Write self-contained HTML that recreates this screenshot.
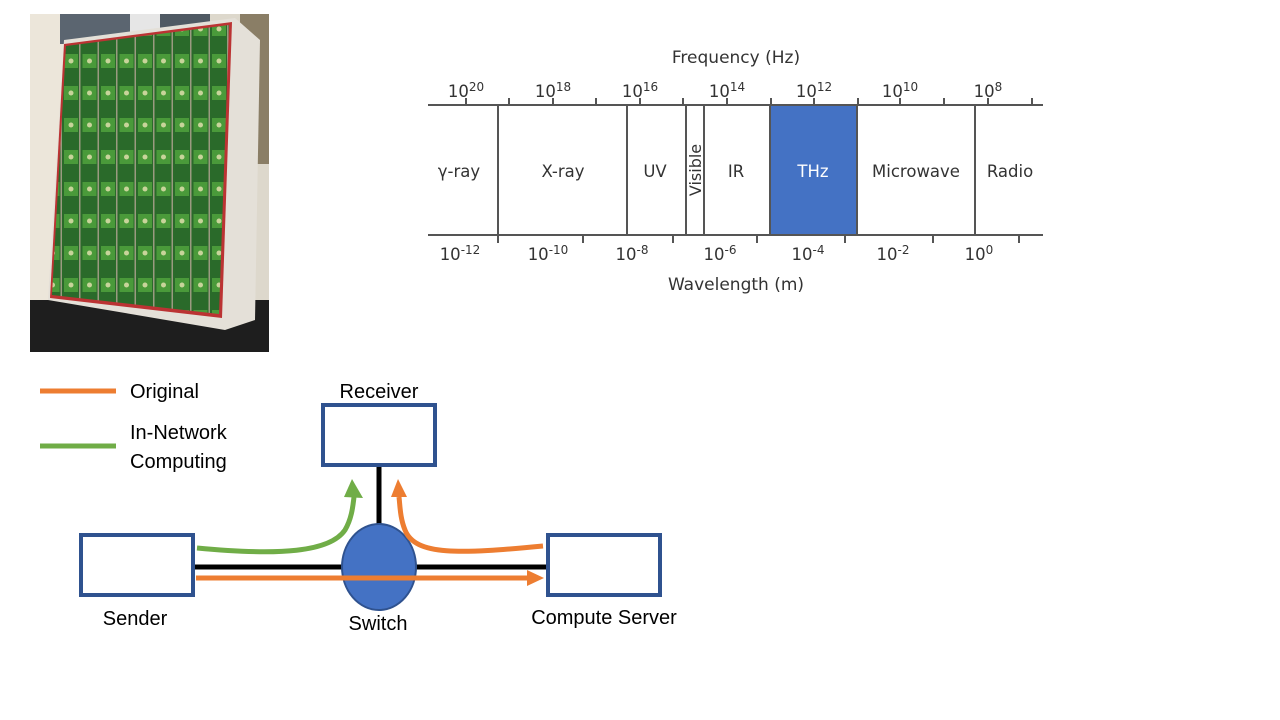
<!DOCTYPE html>
<html><head><meta charset="utf-8"><style>
html,body{margin:0;padding:0;background:#fff;}
svg{display:block;}
</style></head><body>
<svg width="1280" height="720" viewBox="0 0 1280 720" xmlns="http://www.w3.org/2000/svg">
<defs>
<pattern id="chip" x="62" y="50" width="18.5" height="32" patternUnits="userSpaceOnUse">
<rect width="18.5" height="32" fill="#2a6a2a"/>
<rect x="2" y="4" width="14" height="14" fill="#4a9a3a"/>
<circle cx="9" cy="11" r="2.5" fill="#c8d49a"/>
<rect x="17" y="0" width="1.5" height="32" fill="#9a9a80"/>
</pattern>
</defs>
<!-- photo -->
<rect x="30" y="14" width="239" height="338" fill="#ddd8cc"/>
<rect x="30" y="14" width="35" height="338" fill="#ece6da"/>
<rect x="60" y="14" width="70" height="30" fill="#5b6570"/>
<rect x="130" y="14" width="30" height="30" fill="#e6e6e6"/>
<rect x="160" y="14" width="50" height="30" fill="#4f5963"/>
<rect x="240" y="14" width="29" height="150" fill="#8a7e66"/>
<rect x="30" y="300" width="239" height="52" fill="#1e1e1e"/>
<polygon points="64,40 235,18 260,40 255,320 225,330 48,300" fill="#e4e0d8"/>
<polygon points="64,44 232,22 222,318 50,298" fill="#b33" />
<polygon points="66,46 229,25 219,314 52,295" fill="url(#chip)"/>
<!-- spectrum chart -->
<g font-family="DejaVu Sans, Verdana, sans-serif" fill="#333" font-size="16.5">
<rect x="770" y="105" width="87" height="130" fill="#4472c4"/>
<g stroke="#555" stroke-width="2">
<line x1="428" y1="105" x2="1043" y2="105"/>
<line x1="428" y1="235" x2="1043" y2="235"/>
<line x1="498" y1="105" x2="498" y2="235"/>
<line x1="627" y1="105" x2="627" y2="235"/>
<line x1="686" y1="105" x2="686" y2="235"/>
<line x1="704" y1="105" x2="704" y2="235"/>
<line x1="770" y1="105" x2="770" y2="235"/>
<line x1="857" y1="105" x2="857" y2="235"/>
<line x1="975" y1="105" x2="975" y2="235"/>
<path d="M466 105v-7M509 105v-7M553 105v-7M596 105v-7M640 105v-7M683 105v-7M727 105v-7M771 105v-7M814 105v-7M858 105v-7M900 105v-7M944 105v-7M988 105v-7M1032 105v-7"/>
<path d="M498 235v8M583 235v8M673 235v8M757 235v8M845 235v8M933 235v8M1019 235v8"/>
</g>
<text x="736" y="63" text-anchor="middle" font-size="17">Frequency (Hz)</text>
<text x="736" y="290" text-anchor="middle" font-size="17">Wavelength (m)</text>
<g text-anchor="middle">
<text x="466" y="97">10<tspan font-size="12" dy="-6">20</tspan></text>
<text x="553" y="97">10<tspan font-size="12" dy="-6">18</tspan></text>
<text x="640" y="97">10<tspan font-size="12" dy="-6">16</tspan></text>
<text x="727" y="97">10<tspan font-size="12" dy="-6">14</tspan></text>
<text x="814" y="97">10<tspan font-size="12" dy="-6">12</tspan></text>
<text x="900" y="97">10<tspan font-size="12" dy="-6">10</tspan></text>
<text x="988" y="97">10<tspan font-size="12" dy="-6">8</tspan></text>
<text x="460" y="260">10<tspan font-size="12" dy="-6">-12</tspan></text>
<text x="548" y="260">10<tspan font-size="12" dy="-6">-10</tspan></text>
<text x="632" y="260">10<tspan font-size="12" dy="-6">-8</tspan></text>
<text x="720" y="260">10<tspan font-size="12" dy="-6">-6</tspan></text>
<text x="808" y="260">10<tspan font-size="12" dy="-6">-4</tspan></text>
<text x="893" y="260">10<tspan font-size="12" dy="-6">-2</tspan></text>
<text x="979" y="260">10<tspan font-size="12" dy="-6">0</tspan></text>
<text x="459" y="177">γ-ray</text>
<text x="563" y="177">X-ray</text>
<text x="655" y="177">UV</text>
<text x="736" y="177">IR</text>
<text x="813" y="177" fill="#fff">THz</text>
<text x="916" y="177">Microwave</text>
<text x="1010" y="177">Radio</text>
<text transform="translate(701,170) rotate(-90)" font-size="16">Visible</text>
</g>
</g>
<!-- network diagram -->
<g font-family="Liberation Sans, Arial, sans-serif" font-size="20" fill="#000">
<line x1="40" y1="391" x2="116" y2="391" stroke="#ed7d31" stroke-width="5"/>
<text x="130" y="398">Original</text>
<line x1="40" y1="446" x2="116" y2="446" stroke="#70ad47" stroke-width="5"/>
<text x="130" y="439">In-Network</text>
<text x="130" y="468">Computing</text>
<text x="379" y="398" text-anchor="middle">Receiver</text>
<text x="135" y="625" text-anchor="middle">Sender</text>
<text x="378" y="630" text-anchor="middle">Switch</text>
<text x="604" y="624" text-anchor="middle">Compute Server</text>
</g>
<line x1="379" y1="467" x2="379" y2="540" stroke="#000" stroke-width="5"/>
<line x1="194" y1="567" x2="546" y2="567" stroke="#000" stroke-width="5"/>
<ellipse cx="379" cy="567" rx="37" ry="43" fill="#4472c4" stroke="#2f528f" stroke-width="2"/>
<rect x="81" y="535" width="112" height="60" fill="#fff" stroke="#2f528f" stroke-width="4"/>
<rect x="548" y="535" width="112" height="60" fill="#fff" stroke="#2f528f" stroke-width="4"/>
<rect x="323" y="405" width="112" height="60" fill="#fff" stroke="#2f528f" stroke-width="4"/>
<!-- arrows -->
<path d="M197 548 C280 556 330 552 345 530 C352 518 353 505 354 497" fill="none" stroke="#70ad47" stroke-width="5"/>
<polygon points="344,497 352,479 363,498" fill="#70ad47"/>
<path d="M543 546 C460 554 415 556 405 530 C400 518 400 505 399 497" fill="none" stroke="#ed7d31" stroke-width="5"/>
<polygon points="391,497 398,479 407,497" fill="#ed7d31"/>
<line x1="196" y1="578" x2="528" y2="578" stroke="#ed7d31" stroke-width="5"/>
<polygon points="527,570 544,578 527,586" fill="#ed7d31"/>
</svg>
</body></html>
